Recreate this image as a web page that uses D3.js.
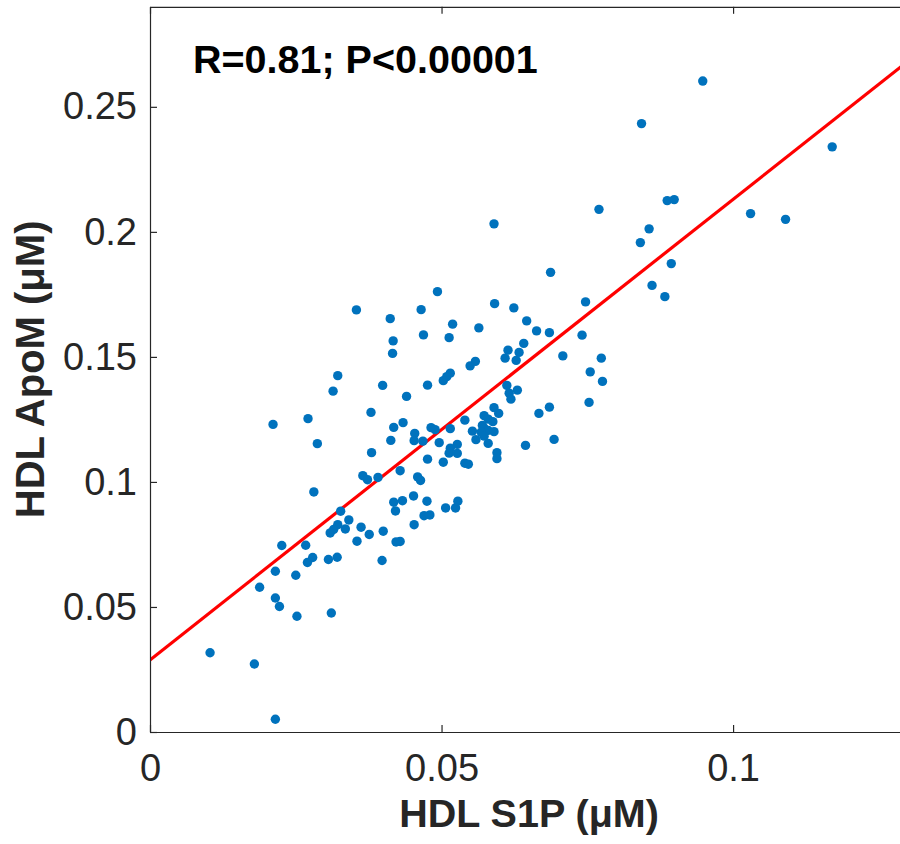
<!DOCTYPE html>
<html>
<head>
<meta charset="utf-8">
<script src="https://cdn.jsdelivr.net/npm/d3@7"></script>
<style>
  body { margin: 0; background: #fff; }
  text { font-family: "Liberation Sans", Arial, Helvetica, sans-serif; }
</style>
</head>
<body>
<div id="chart"></div>
<script>
// HDL S1P (uM) values
var s1p = [
    0.0590, 0.0770, 0.0948, 0.0843, 0.1170, 0.0887, 0.0899, 0.0856, 0.0841, 0.1030,
    0.1090, 0.0687, 0.0894, 0.0861, 0.0883, 0.0354, 0.0412, 0.0417, 0.0416, 0.0322,
    0.0314, 0.0399, 0.0440, 0.0379, 0.0271, 0.0211, 0.0434, 0.0418, 0.0287, 0.0413,
    0.0380, 0.0429, 0.0365, 0.0373, 0.0391, 0.0493, 0.0465, 0.0591, 0.0624, 0.0747,
    0.0519, 0.0469, 0.0513, 0.0564, 0.0646, 0.0663, 0.0685, 0.0741, 0.0641, 0.0614,
    0.0633, 0.0609, 0.0628, 0.0708, 0.0774, 0.0755, 0.0776, 0.0558, 0.0549, 0.0515,
    0.0509, 0.0503, 0.0476, 0.0612, 0.0630, 0.0616, 0.0619, 0.0753, 0.0685, 0.0667,
    0.0590, 0.0598, 0.0573, 0.0580, 0.0588, 0.0540, 0.0570, 0.0573, 0.0580, 0.0590,
    0.0553, 0.0568, 0.0573, 0.0559, 0.0482, 0.0489, 0.0515, 0.0454, 0.0453, 0.0468,
    0.0496, 0.0527, 0.0580, 0.0644, 0.0693, 0.0515, 0.0513, 0.0527, 0.0595, 0.0595,
    0.0476, 0.0503, 0.0540, 0.0546, 0.0459, 0.0464, 0.0433, 0.0452, 0.0475, 0.0507,
    0.0524, 0.0528, 0.0470, 0.0480, 0.0453, 0.0429, 0.0281, 0.0327, 0.0341, 0.0322,
    0.0315, 0.0309, 0.0335, 0.0362, 0.0376, 0.0400, 0.0355, 0.0422, 0.0418, 0.0421,
    0.0226, 0.0267, 0.0279, 0.0270, 0.0306, 0.0321, 0.0398, 0.0215, 0.0250, 0.0188,
    0.0215, 0.0222, 0.0252, 0.0311, 0.0103, 0.0179, 0.0215
];

// HDL ApoM (uM) values, same order
var apoM = [
    0.2032, 0.2090, 0.2603, 0.2433, 0.2340, 0.2125, 0.2129, 0.2012, 0.1957, 0.2073,
    0.2050, 0.1838, 0.1873, 0.1786, 0.1741, 0.1688, 0.1653, 0.1564, 0.1514, 0.1425,
    0.1363, 0.1386, 0.1342, 0.1278, 0.1253, 0.1230, 0.1237, 0.1218, 0.1153, 0.1166,
    0.1117, 0.1045, 0.1025, 0.1009, 0.1018, 0.1761, 0.1689, 0.1713, 0.1696, 0.1720,
    0.1631, 0.1588, 0.1577, 0.1616, 0.1644, 0.1604, 0.1597, 0.1587, 0.1554, 0.1527,
    0.1518, 0.1495, 0.1486, 0.1504, 0.1495, 0.1440, 0.1402, 0.1482, 0.1464, 0.1435,
    0.1421, 0.1405, 0.1387, 0.1386, 0.1367, 0.1355, 0.1331, 0.1318, 0.1299, 0.1274,
    0.1297, 0.1274, 0.1265, 0.1251, 0.1241, 0.1247, 0.1226, 0.1215, 0.1206, 0.1201,
    0.1203, 0.1199, 0.1183, 0.1169, 0.1217, 0.1209, 0.1213, 0.1194, 0.1165, 0.1163,
    0.1157, 0.1150, 0.1154, 0.1146, 0.1170, 0.1135, 0.1115, 0.1114, 0.1117, 0.1093,
    0.1091, 0.1079, 0.1075, 0.1071, 0.1020, 0.1006, 0.0925, 0.0944, 0.0923, 0.0896,
    0.0896, 0.0923, 0.0865, 0.0868, 0.0829, 0.0762, 0.0960, 0.0883, 0.0848, 0.0829,
    0.0810, 0.0796, 0.0812, 0.0819, 0.0790, 0.0803, 0.0763, 0.0760, 0.0919, 0.0884,
    0.0746, 0.0747, 0.0698, 0.0678, 0.0690, 0.0699, 0.0686, 0.0643, 0.0627, 0.0579,
    0.0536, 0.0502, 0.0463, 0.0476, 0.0317, 0.0272, 0.0051
];

// least squares line: intercept, slope
var fitCoef = [0.0288, 1.842];

var xTicks = [0, 0.05, 0.1];
var xTickLabels = ["0", "0.05", "0.1"];
var yTicks = [0, 0.05, 0.1, 0.15, 0.2, 0.25];
var yTickLabels = ["0", "0.05", "0.1", "0.15", "0.2", "0.25"];

var statText = "R=0.81; P<0.00001";
var xLabel = "HDL S1P (\u03bcM)";
var yLabel = "HDL ApoM (\u03bcM)";

function init() {
    var W = 900, H = 844;
    var left = 150, top = 6.8, right = 908, bottom = 732;
    var axisColor = "#262626";

    var svg = d3.select("#chart")
        .append("svg")
        .attr("width", W)
        .attr("height", H);

    var xScale = d3.scaleLinear().domain([0, 0.13]).range([left, right]);
    var yScale = d3.scaleLinear().domain([0, 0.29]).range([bottom, top]);

    svg.append("clipPath")
        .attr("id", "plotClip")
        .append("rect")
        .attr("x", left)
        .attr("y", top)
        .attr("width", right - left)
        .attr("height", bottom - top);

    var plot = svg.append("g").attr("clip-path", "url(#plotClip)");

    // regression line
    var xs = xScale.domain();
    var fitPts = xs.map(function(x) { return [x, fitCoef[0] + fitCoef[1] * x]; });
    plot.append("path")
        .datum(fitPts)
        .attr("d", d3.line()
            .x(function(d) { return xScale(d[0]); })
            .y(function(d) { return yScale(d[1]); }))
        .attr("fill", "none")
        .attr("stroke", "#ff0000")
        .attr("stroke-width", 3.2);

    // points
    plot.selectAll("circle")
        .data(d3.range(s1p.length))
        .enter()
        .append("circle")
        .attr("cx", function(i) { return xScale(s1p[i]); })
        .attr("cy", function(i) { return yScale(apoM[i]); })
        .attr("r", 4.7)
        .attr("fill", "#0072bd");

    // axes
    var xAxis = d3.axisBottom(xScale)
        .tickValues(xTicks)
        .tickFormat(function(d, i) { return xTickLabels[i]; })
        .tickSizeInner(-7)
        .tickSizeOuter(0)
        .tickPadding(22);
    var gx = svg.append("g")
        .attr("transform", "translate(0," + bottom + ")")
        .call(xAxis);

    var yAxis = d3.axisLeft(yScale)
        .tickValues(yTicks)
        .tickFormat(function(d, i) { return yTickLabels[i]; })
        .tickSizeInner(-7)
        .tickSizeOuter(0)
        .tickPadding(13);
    var gy = svg.append("g")
        .attr("transform", "translate(" + left + ",0)")
        .call(yAxis);

    var gt = svg.append("g")
        .attr("transform", "translate(0," + top + ")")
        .call(d3.axisTop(xScale).tickValues(xTicks).tickFormat("")
            .tickSizeInner(-7).tickSizeOuter(0));

    var gr = svg.append("g")
        .attr("transform", "translate(" + right + ",0)")
        .call(d3.axisRight(yScale).tickValues(yTicks).tickFormat("")
            .tickSizeInner(-7).tickSizeOuter(0));

    [gx, gy, gt, gr].forEach(function(g) {
        g.select(".domain").attr("stroke", axisColor).attr("stroke-width", 1.2);
        g.selectAll(".tick line").attr("stroke", axisColor).attr("stroke-width", 1.2);
        g.selectAll(".tick text")
            .attr("fill", axisColor)
            .style("font-family", "'Liberation Sans', Arial, sans-serif")
            .style("font-size", "38px");
    });

    // labels
    svg.append("text")
        .attr("x", (left + right) / 2)
        .attr("y", 827)
        .attr("text-anchor", "middle")
        .attr("font-size", 39.5)
        .attr("font-weight", "bold")
        .attr("fill", axisColor)
        .text(xLabel);

    svg.append("text")
        .attr("transform", "translate(44," + ((top + bottom) / 2) + ") rotate(-90)")
        .attr("text-anchor", "middle")
        .attr("font-size", 40)
        .attr("font-weight", "bold")
        .attr("fill", axisColor)
        .text(yLabel);

    svg.append("text")
        .attr("x", 193)
        .attr("y", 73)
        .attr("font-size", 39.5)
        .attr("font-weight", "bold")
        .attr("fill", "#000")
        .text(statText);
}

window.onload = init;
</script>
</body>
</html>
